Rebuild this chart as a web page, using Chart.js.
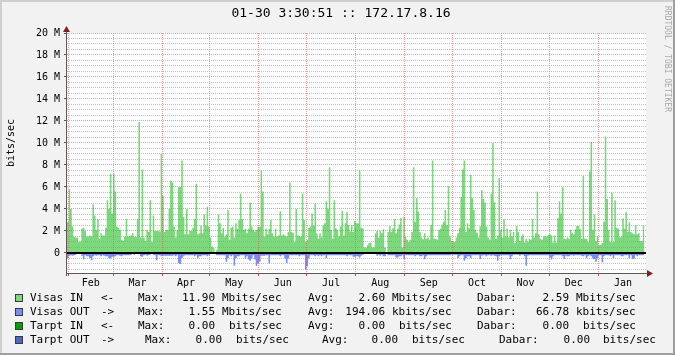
<!DOCTYPE html>
<html>
<head>
<meta charset="utf-8">
<script src="https://cdn.jsdelivr.net/npm/chart.js@4.4.1/dist/chart.umd.min.js"></script>
<style>
  html, body { margin: 0; padding: 0; background: #f2f2f2; }
</style>
</head>
<body>
<canvas id="chartTraffic" width="675" height="355"></canvas>
<script>
// Daily averages, Mbit/s, day 0 = Jan 31
const visasIn = [
  2.8, 5.8, 4.0, 2.4, 1.45, 1.4, 1.4, 1.0, 1.05, 2.2,
  2.3, 2.0, 1.5, 1.5, 1.6, 1.5, 4.4, 3.4, 2.1, 3.1,
  1.3, 1.8, 1.6, 1.6, 2.3, 4.8, 4.0, 7.2, 3.6, 7.2,
  5.6, 2.4, 2.3, 2.1, 1.2, 1.1, 1.5, 3.1, 1.5, 1.55,
  1.6, 1.8, 1.45, 1.45, 3.1, 11.9, 1.4, 7.6, 1.4, 1.1,
  2.1, 1.9, 4.8, 1.0, 3.4, 2.0, 2.0, 2.0, 1.95, 9.0,
  5.2, 1.9, 2.1, 2.1, 4.0, 6.6, 6.4, 2.4, 1.4, 2.1,
  6.0, 6.0, 8.4, 3.3, 1.7, 4.0, 1.7, 2.0, 2.0, 2.3,
  3.1, 6.3, 1.7, 1.8, 2.5, 1.8, 3.5, 2.5, 4.2, 2.4,
  1.4, 0.6, 0.45, 0, 0.3, 3.5, 2.7, 1.8, 2.3, 1.5,
  1.7, 3.9, 1.2, 2.3, 2.4, 1.4, 2.7, 2.2, 3.0, 5.4,
  3.1, 2.1, 2.2, 1.8, 2.2, 4.6, 2.4, 2.1, 1.95, 2.1,
  2.4, 2.4, 7.5, 5.6, 1.5, 2.2, 1.7, 2.2, 3.0, 1.8,
  1.5, 2.2, 1.5, 1.6, 3.8, 1.6, 1.7, 1.6, 1.5, 1.9,
  6.4, 1.9, 1.85, 1.0, 4.0, 1.6, 1.55, 1.5, 5.4, 3.0,
  1.0, 1.2, 2.3, 2.4, 3.6, 2.5, 4.5, 1.8, 1.3, 1.8,
  1.4, 2.5, 2.7, 4.7, 4.0, 7.8, 2.1, 1.3, 4.8, 2.25,
  2.1, 1.5, 2.4, 3.85, 1.6, 2.7, 3.7, 2.55, 1.95, 2.55,
  1.9, 2.9, 2.7, 2.7, 7.5, 2.3, 2.25, 0.5, 0.5, 0.7,
  0.9, 0.95, 0.5, 0.5, 1.8, 2.0, 1.4, 2.0, 1.8, 2.15,
  0.5, 0, 1.9, 2.45, 1.9, 2.25, 3.1, 1.8, 2.2, 2.6,
  3.2, 0.5, 3.3, 1.5, 1.2, 1.0, 1.2, 1.9, 7.8, 2.85,
  5.0, 3.75, 1.9, 1.4, 1.25, 1.8, 1.3, 1.4, 1.2, 2.55,
  8.4, 1.3, 1.3, 1.2, 2.1, 2.2, 2.6, 2.85, 3.9, 2.55,
  6.1, 1.5, 1.1, 1.05, 1.0, 1.4, 1.8, 2.3, 5.1, 7.6,
  8.4, 1.9, 2.7, 2.25, 7.1, 5.0, 3.9, 2.1, 1.85, 1.4,
  2.4, 5.7, 4.9, 4.6, 2.4, 1.4, 1.2, 5.4, 10.0, 4.6,
  1.3, 1.6, 6.8, 2.1, 1.4, 3.1, 1.5, 2.2, 1.4, 2.1,
  1.5, 1.9, 0.9, 2.45, 1.9, 1.1, 1.5, 1.7, 0.95, 1.3,
  1.0, 1.3, 1.2, 3.1, 1.4, 1.8, 5.6, 1.7, 1.3, 1.2,
  1.5, 1.55, 1.5, 1.65, 1.7, 1.6, 0.95, 1.6, 0.95, 3.15,
  4.7, 3.6, 6.0, 1.3, 1.25, 1.4, 1.3, 2.1, 1.8, 1.7,
  2.15, 2.45, 2.45, 2.15, 1.3, 7.0, 1.3, 1.3, 1.0, 7.4,
  10.1, 2.1, 3.5, 1.1, 1.55, 0.7, 0.75, 0.9, 2.85, 10.6,
  4.9, 2.1, 1.0, 5.5, 1.0, 4.8, 2.3, 2.2, 1.4, 1.5,
  3.15, 2.2, 3.7, 1.9, 2.8, 1.9, 1.8, 1.7, 2.55, 1.7,
  1.8, 1.1, 1.1, 2.55
];

// Outgoing traffic, Mbit/s (drawn below zero)
const visasOut = [
  0.45, 0.25, 0.2, 0.25, 0.2, 0.15, 0.1, 0.05, 0.1, 0.25,
  0.6, 0.2, 0.3, 0.3, 0.45, 0.65, 0.3, 0.2, 0.25, 0.2,
  0.2, 0.3, 0.2, 0.25, 0.3, 0.3, 0.45, 0.5, 0.35, 0.35,
  0.3, 0.2, 0.2, 0.25, 0.3, 0.2, 0.2, 0.2, 0.2, 0.2,
  0.15, 0.1, 0.15, 0.1, 0.1, 0.1, 0.3, 0.35, 0.2, 0.15,
  0.25, 0.2, 0.15, 0.1, 0.15, 0.2, 0.65, 0.2, 0.2, 0.3,
  0.25, 0.25, 0.25, 0.25, 0.25, 0.25, 0.25, 0.2, 0.3, 0.2,
  0.9, 1.0, 0.45, 0.3, 0.2, 0.2, 0.2, 0.2, 0.2, 0.2,
  0.3, 0.2, 0.45, 0.3, 0.3, 0.2, 0.2, 0.2, 0.3, 0.2,
  0.1, 0.05, 0.05, 0, 0.2, 0.2, 0.2, 0.2, 0.2, 0.2,
  0.8, 0.45, 0.2, 0.3, 0.2, 1.15, 0.45, 0.3, 0.3, 0.2,
  0.2, 0.2, 0.5, 0.3, 0.6, 0.7, 0.5, 0.2, 0.6, 1.15,
  0.95, 0.8, 0.25, 0.25, 0.25, 0.2, 0.2, 0.95, 0.2, 0.2,
  0.2, 0.2, 0.2, 0.2, 0.3, 0.2, 0.2, 0.5, 0.9, 0.5,
  0.2, 0.2, 0.2, 0.2, 0.2, 0.2, 0.3, 0.2, 0.2, 0.2,
  1.55, 1.2, 0.5, 0.2, 0.2, 0.2, 0.3, 0.2, 0.3, 0.2,
  0.3, 0.2, 0.2, 0.45, 0.2, 0.2, 0.2, 0.2, 0.2, 0.2,
  0.2, 0.2, 0.2, 0.2, 0.2, 0.2, 0.3, 0.2, 0.2, 0.2,
  0.35, 0.35, 0.3, 0.3, 0.4, 0.25, 0.15, 0.05, 0.05, 0.05,
  0.05, 0.05, 0.05, 0.05, 0.1, 0.25, 0.15, 0.25, 0.15, 0.3,
  0.3, 0, 0.2, 0.2, 0.2, 0.2, 0.2, 0.4, 0.4, 0.3,
  0.3, 0.2, 0.55, 0.2, 0.2, 0.2, 0.2, 0.2, 0.2, 0.3,
  0.2, 0.2, 0.3, 0.3, 0.2, 0.55, 0.3, 0.2, 0.2, 0.2,
  0.2, 0.2, 0.2, 0.2, 0.2, 0.2, 0.2, 0.2, 0.2, 0.2,
  0.2, 0.2, 0.15, 0.15, 0.15, 0.15, 0.45, 0.3, 0.2, 0.2,
  0.7, 0.45, 0.3, 0.3, 0.45, 0.2, 0.2, 0.2, 0.2, 0.2,
  0.55, 0.25, 0.2, 0.2, 0.3, 0.2, 0.2, 0.25, 0.2, 0.25,
  0.3, 0.7, 0.3, 0.2, 0.2, 0.2, 0.2, 0.2, 0.2, 0.55,
  0.3, 0.15, 0.15, 0.15, 0.15, 0.25, 0.15, 0.15, 0.3, 1.15,
  0.25, 0.2, 0.2, 0.2, 0.2, 0.2, 0.2, 0.2, 0.2, 0.2,
  0.2, 0.2, 0.2, 0.2, 0.4, 0.6, 0.3, 0.2, 0.2, 0.2,
  0.2, 0.2, 0.3, 0.55, 0.25, 0.3, 0.3, 0.2, 0.2, 0.25,
  0.2, 0.2, 0.2, 0.2, 0.25, 0.3, 0.2, 0.45, 0.3, 0.2,
  0.3, 0.5, 0.55, 0.8, 0.45, 0.2, 0.2, 0.85, 0.3, 0.2,
  0.2, 0.2, 0.3, 0.2, 0.45, 0.2, 0.2, 0.2, 0.2, 0.3,
  0.3, 0.2, 0.2, 0.2, 0.45, 0.2, 0.55, 0.5, 0.2, 0.3,
  0.2, 0.2, 0.2, 0.2
];

// Month axis (day index of the 1st of each month)
const monthLabels = ['Feb', 'Mar', 'Apr', 'May', 'Jun', 'Jul', 'Aug', 'Sep', 'Oct', 'Nov', 'Dec', 'Jan'];
const monthStarts = [1, 29, 60, 90, 121, 151, 182, 213, 243, 274, 304, 335, 366];

// Legend rows: name, arrow, Max, Avg, Dabar
const legendNames  = ['Visas IN', 'Visas OUT', 'Tarpt IN', 'Tarpt OUT'];
const legendArrows = ['<-', '->', '<-', '->'];
const legendMax    = ['11.90', '1.55', '0.00', '0.00'];
const legendMaxU   = ['Mbits/sec', 'Mbits/sec', 'bits/sec', 'bits/sec'];
const legendAvg    = ['2.60', '194.06', '0.00', '0.00'];
const legendAvgU   = ['Mbits/sec', 'kbits/sec', 'bits/sec', 'bits/sec'];
const legendDab    = ['2.59', '66.78', '0.00', '0.00'];
const legendDabU   = ['Mbits/sec', 'kbits/sec', 'bits/sec', 'bits/sec'];
const legendColors = ['#7dd87d', '#7b8cf7', '#00a000', '#4a68c8'];

const TITLE = '01-30 3:30:51 :: 172.17.8.16';
const Y_TITLE = 'bits/sec';
const WATERMARK = 'RRDTOOL / TOBI OETIKER';

const MONO = '"DejaVu Sans Mono", "Liberation Mono", monospace';
const GRID = 'rgba(143,143,143,0.55)';
const MGRID = 'rgba(222,79,79,0.55)';
const ARROW = '#801f1f';

// grid positions on the y axis (every 0.5 M)
const yGridValues = [];
for (let k = -3; k <= 40; k++) yGridValues.push(k * 500000);

const monthMiddles = monthLabels.map((m, i) => (monthStarts[i] + monthStarts[i + 1]) / 2);

// stepped area points, the last point closes the last day
function toSteps(values, sign) {
    const pts = values.map((v, i) => ({ x: i, y: sign * v * 1e6 }));
    pts.push({ x: values.length, y: sign * values[values.length - 1] * 1e6 });
    return pts;
}

function isMajor(v) {
    return Math.abs(Math.round(v) % 2000000) === 0 && v >= 0;
}

// background, plot area and frame (rrdtool style)
const backgroundPlugin = {
    id: 'rrdBackground',
    beforeDraw(chart) {
        const ctx = chart.ctx;
        const a = chart.chartArea;
        ctx.save();
        ctx.fillStyle = '#f2f2f2';
        ctx.fillRect(0, 0, 675, 355);
        ctx.fillStyle = '#ffffff';
        ctx.fillRect(a.left, a.top, a.right - a.left, a.bottom - a.top);
        ctx.fillStyle = '#cfcfcf';
        ctx.fillRect(0, 0, 675, 2);
        ctx.fillRect(0, 0, 2, 355);
        ctx.fillStyle = '#9e9e9e';
        ctx.fillRect(673, 0, 2, 355);
        ctx.fillRect(0, 353, 675, 2);
        ctx.restore();
    }
};

// axes, arrows, zero rule, titles and legend
const decorPlugin = {
    id: 'rrdDecor',
    afterDraw(chart) {
        const ctx = chart.ctx;
        const a = chart.chartArea;
        const y0 = Math.round(chart.scales.y.getPixelForValue(0));
        ctx.save();

        // zero rule
        ctx.fillStyle = '#000';
        ctx.fillRect(a.left, y0 - 1, a.right - a.left, 2);

        // axes
        ctx.fillStyle = '#5a5a5a';
        ctx.fillRect(a.left - 1, a.bottom, a.right - a.left + 3, 1);
        ctx.fillRect(a.left - 1, a.top - 2, 1, a.bottom - a.top + 5);

        // arrows
        ctx.fillStyle = ARROW;
        ctx.beginPath();
        ctx.moveTo(a.left - 4, a.top - 1);
        ctx.lineTo(a.left + 3, a.top - 1);
        ctx.lineTo(a.left - 0.5, a.top - 7);
        ctx.closePath();
        ctx.fill();
        ctx.beginPath();
        ctx.moveTo(a.right + 1, a.bottom - 3);
        ctx.lineTo(a.right + 1, a.bottom + 4);
        ctx.lineTo(a.right + 7, a.bottom + 0.5);
        ctx.closePath();
        ctx.fill();

        // title
        ctx.fillStyle = '#000';
        ctx.font = '13px ' + MONO;
        ctx.textAlign = 'center';
        ctx.textBaseline = 'middle';
        ctx.fillText(TITLE, 341, 14);

        // y axis title
        ctx.font = '10px ' + MONO;
        ctx.save();
        ctx.translate(11, 143);
        ctx.rotate(-Math.PI / 2);
        ctx.fillText(Y_TITLE, 0, 0);
        ctx.restore();

        // watermark
        ctx.save();
        ctx.fillStyle = '#a8a8a8';
        ctx.font = '8px ' + MONO;
        ctx.translate(667, 59);
        ctx.rotate(Math.PI / 2);
        ctx.fillText(WATERMARK, 0, 0);
        ctx.restore();

        // legend
        const rowsY = [298, 312, 326, 340];
        ctx.font = '11px ' + MONO;
        ctx.textBaseline = 'middle';
        rowsY.forEach((ry, r) => {
            ctx.fillStyle = legendColors[r];
            ctx.fillRect(15, ry - 4, 8, 8);
            ctx.strokeStyle = '#3a3a3a';
            ctx.lineWidth = 1;
            ctx.strokeRect(15.5, ry - 3.5, 7, 7);

            const shift = r === 3;   // last row is laid out a bit wider
            const items = [
                [30, 'left', legendNames[r]],
                [101, 'left', legendArrows[r]],
                [shift ? 145 : 138, 'left', 'Max:'],
                [shift ? 222 : 215, 'right', legendMax[r]],
                [legendMaxU[r][0] === 'b' ? (shift ? 236 : 229) : 222, 'left', legendMaxU[r]],
                [shift ? 322 : 308, 'left', 'Avg:'],
                [shift ? 398 : 385, 'right', legendAvg[r]],
                [legendAvgU[r][0] === 'b' ? (shift ? 412 : 399) : 392, 'left', legendAvgU[r]],
                [shift ? 499 : 477, 'left', 'Dabar:'],
                [shift ? 590 : 569, 'right', legendDab[r]],
                [legendDabU[r][0] === 'b' ? (shift ? 603 : 583) : 576, 'left', legendDabU[r]]
            ];
            ctx.fillStyle = '#000';
            items.forEach(([x, align, txt]) => {
                ctx.textAlign = align;
                ctx.fillText(txt, x, ry);
            });
        });
        ctx.restore();
    }
};

const canvas = document.getElementById('chartTraffic');

new Chart(canvas, {
    type: 'line',
    data: {
        datasets: [{
            label: 'Visas IN',
            data: toSteps(visasIn, 1),
            stepped: true,
            fill: 'origin',
            backgroundColor: legendColors[0],
            borderColor: 'rgba(0,0,0,0)',
            borderWidth: 0,
            pointRadius: 0,
            xAxisID: 'x',
            yAxisID: 'y'
        }, {
            label: 'Visas OUT',
            data: toSteps(visasOut, -1),
            stepped: true,
            fill: 'origin',
            backgroundColor: legendColors[1],
            borderColor: 'rgba(0,0,0,0)',
            borderWidth: 0,
            pointRadius: 0,
            xAxisID: 'x',
            yAxisID: 'y'
        }]
    },
    options: {
        responsive: false,
        devicePixelRatio: 1,
        animation: false,
        layout: { padding: { left: 0, top: 33, right: 29, bottom: 0 } },
        plugins: {
            legend: { display: false },
            tooltip: { enabled: false }
        },
        scales: {
            // month boundaries (grid only)
            x: {
                type: 'linear',
                position: 'bottom',
                weight: 0,
                min: 0,
                max: 365,
                afterBuildTicks: s => { s.ticks = monthStarts.slice(0, 12).map(v => ({ value: v })); },
                afterFit: s => { s.height = 0; },
                ticks: { display: false, autoSkip: false },
                grid: {
                    z: 1,
                    color: MGRID,
                    lineWidth: 1,
                    drawTicks: true,
                    tickLength: 3,
                    tickColor: 'rgba(150,40,40,0.8)'
                },
                border: { display: false, dash: [1, 1] }
            },
            // month names
            x2: {
                type: 'linear',
                position: 'bottom',
                weight: 1,
                min: 0,
                max: 365,
                afterBuildTicks: s => { s.ticks = monthMiddles.map(v => ({ value: v })); },
                afterFit: s => { s.height = 82; },
                ticks: {
                    autoSkip: false,
                    maxRotation: 0,
                    padding: 4,
                    color: '#000',
                    font: { family: MONO, size: 10 },
                    callback: (v, i) => monthLabels[i]
                },
                grid: { display: false, drawTicks: false },
                border: { display: false }
            },
            y: {
                type: 'linear',
                position: 'left',
                min: -1820000,
                max: 20000000,
                afterBuildTicks: s => { s.ticks = yGridValues.map(v => ({ value: v })); },
                afterFit: s => { s.width = 67; },
                ticks: {
                    autoSkip: false,
                    padding: 4,
                    color: '#000',
                    font: { family: MONO, size: 10 },
                    callback: v => {
                        if (!isMajor(v)) return '';
                        return v === 0 ? '0' : (v / 1e6) + ' M';
                    }
                },
                grid: {
                    z: 1,
                    lineWidth: 1,
                    color: c => (c.tick && isMajor(c.tick.value)) ? MGRID : GRID,
                    drawTicks: true,
                    tickLength: 3,
                    tickColor: c => (c.tick && isMajor(c.tick.value)) ? '#555' : 'rgba(0,0,0,0)'
                },
                border: { display: false, dash: [1, 1] }
            }
        }
    },
    plugins: [backgroundPlugin, decorPlugin]
});
</script>
</body>
</html>
